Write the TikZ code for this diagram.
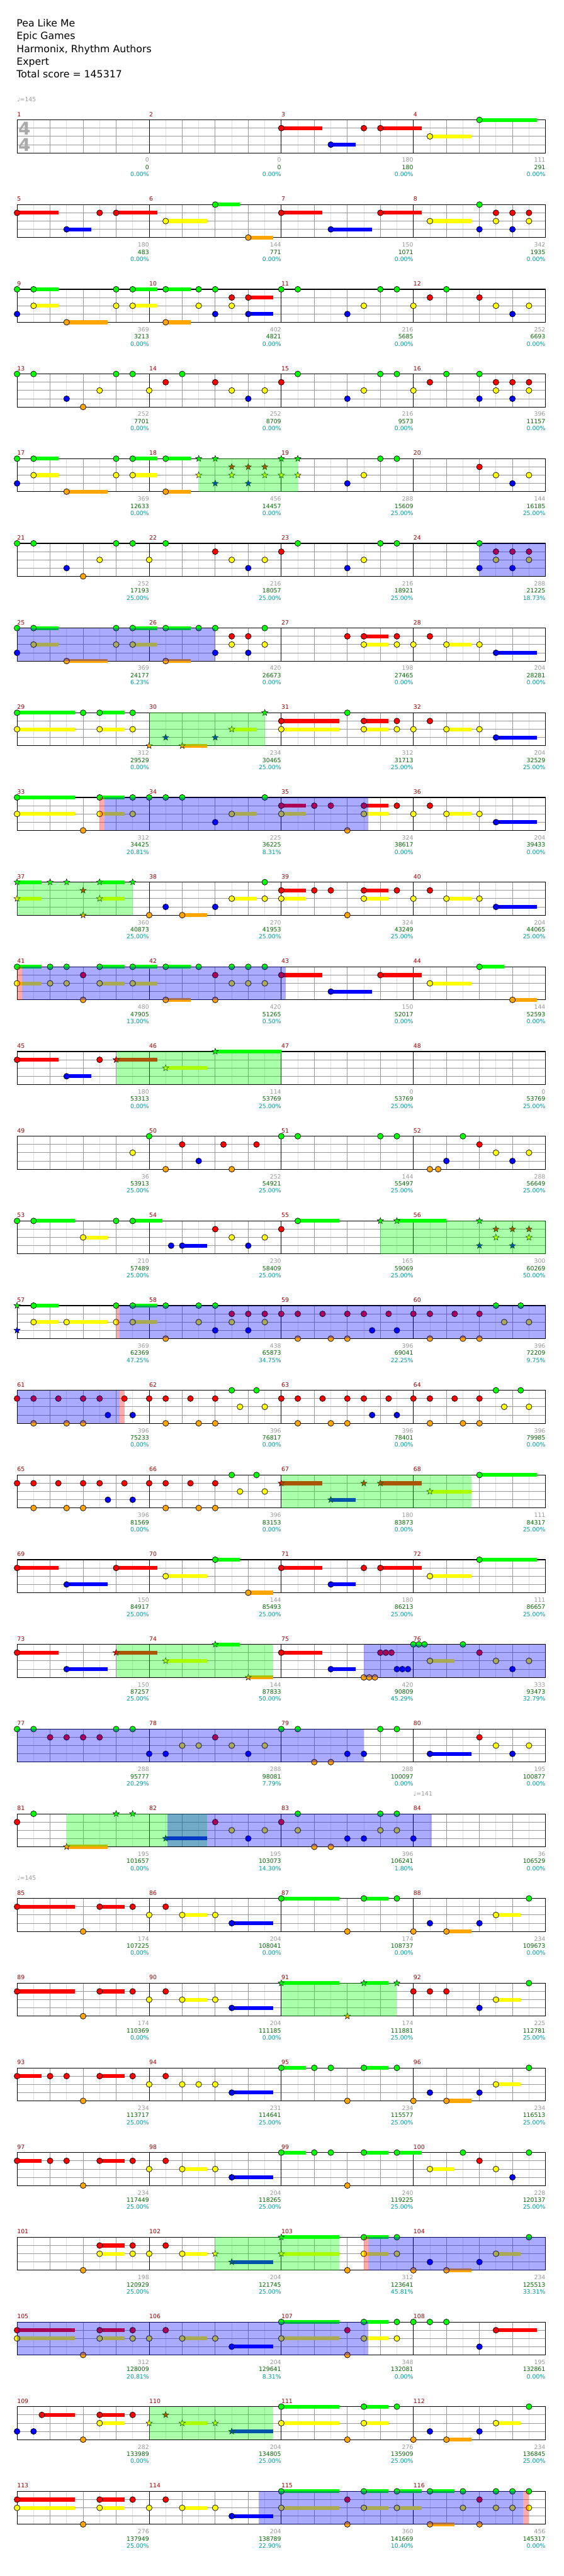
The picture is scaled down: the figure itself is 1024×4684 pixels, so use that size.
\documentclass[tikz,border=0pt]{standalone}
\usepackage{fontspec}
\setmainfont{DejaVu Sans}
\usepackage{tikz}
\usetikzlibrary{shapes.geometric}
\definecolor{lane0}{HTML}{00FF00}
\definecolor{lane1}{HTML}{FF0000}
\definecolor{lane2}{HTML}{FFFF00}
\definecolor{lane3}{HTML}{0000FF}
\definecolor{lane4}{HTML}{FFA500}
\definecolor{barred}{HTML}{990000}
\definecolor{ptgray}{HTML}{999999}
\definecolor{ptgreen}{HTML}{006600}
\definecolor{ptteal}{HTML}{009999}
\definecolor{gridmid}{HTML}{999999}
\definecolor{gridlight}{HTML}{DDDDDD}
\definecolor{sigray}{HTML}{AAAAAA}

\newcommand\smallfont{\fontsize{8}{9.6}\selectfont}
\newcommand\titlefont{\fontsize{13.5}{17}\selectfont}

% one row = 4 bars, k counts eighths from the row start, lanes 0..4
\newcommand\chartrow[1]{\def\rowN{#1}\pgfmathsetmacro\rowT{218+154*(#1-1)}}
\newcommand\staffgrid{%
  \foreach \k in {1,3,...,31} \draw[gridlight,line width=0.75pt] ({31+30*\k},\rowT) -- ++(0,60);
  \foreach \k in {2,4,...,30} \draw[gridmid,line width=0.75pt] ({31+30*\k},\rowT) -- ++(0,60);
  \foreach \l in {1,2,3} \draw[gridmid,line width=0.75pt] (31,{\rowT+15*\l}) -- ++(960,0);
  \foreach \k in {8,16,24} \draw[black,line width=0.75pt] ({31+30*\k},\rowT) -- ++(0,60);
  \draw[black,line width=0.9pt] (31,\rowT) rectangle (991,{\rowT+60});
  \foreach \m in {1,...,4}{
    \pgfmathtruncatemacro\mnum{4*(\rowN-1)+\m}
    \node[barlbl] (bar\mnum) at ({31+240*(\m-1)},{\rowT-6.3}) {\mnum};}}
\newcommand\hnote[2]{\filldraw[fill=lane#2,draw=black,line width=0.6pt] ({31+30*#1},{\rowT+15*#2}) circle (5.3);}
\newcommand\hsus[3]{\draw[lane#2,line width=5.25pt] ({31+30*#1},{\rowT+15*#2}) -- ({31+30*#3},{\rowT+15*#2});\hnote{#1}{#2}}
\newcommand\hstar[2]{\node[spstar,fill=lane#2] at ({31+30*#1},{\rowT+15*#2}) {};}
\newcommand\hstarsus[3]{\draw[lane#2,line width=5.25pt] ({31+30*#1},{\rowT+15*#2}) -- ({31+30*#3},{\rowT+15*#2});\hstar{#1}{#2}}
\newcommand\spzone[2]{\fill[lane0,fill opacity=0.333] ({31+30*#1},\rowT) rectangle ({31+30*#2},{\rowT+60});}
\newcommand\solozone[2]{\fill[lane3,fill opacity=0.333] ({31+30*#1},\rowT) rectangle ({31+30*#2},{\rowT+60});}
\newcommand\redzone[2]{\fill[lane1,fill opacity=0.333] ({31+30*#1},\rowT) rectangle ({31+30*#2},{\rowT+60});}
\newcommand\barscore[4]{%
  \node[scorelbl,text=ptgray] at ({31+240*#1},{\rowT+77}) {#2};
  \node[scorelbl,text=ptgreen] at ({31+240*#1},{\rowT+90}) {#3};
  \node[scorelbl,text=ptteal] at ({31+240*#1},{\rowT+103}) {#4\%};}

\begin{document}
\begin{tikzpicture}[x=0.75pt,y=-0.75pt,
    titletxt/.style={anchor=base west,inner sep=0pt,font=\titlefont},
    barlbl/.style={anchor=base west,inner sep=0pt,font=\smallfont,text=barred},
    scorelbl/.style={anchor=base east,inner sep=0pt,font=\smallfont},
    tempolbl/.style={anchor=base west,inner sep=0pt,font=\smallfont,text=ptgray},
    sig/.style={inner sep=0pt,font=\fontsize{24}{24}\selectfont\bfseries,text=sigray},
    spstar/.style={star,star points=5,star point ratio=2.4,minimum size=9pt,inner sep=0pt,draw=black,line width=0.4pt}]
  \useasboundingbox (0,0) rectangle (1024,4684);
  \fill[white] (0,0) rectangle (1024,4684);

  \node[titletxt] (title) at (30,49) {Pea Like Me};
  \node[titletxt] (artist) at (30,72) {Epic Games};
  \node[titletxt] (charter) at (30,95) {Harmonix, Rhythm Authors};
  \node[titletxt] (level) at (30,118) {Expert};
  \node[titletxt] (total) at (30,141) {Total score = 145317};

  % bars 1-4
  \chartrow{1}\staffgrid
  \node[tempolbl] (tempo1) at (31,{\rowT-33}) {♩=145};
  \node[sig] (sigtop) at (44.5,233.5) {4};
  \node[sig] (sigbot) at (44.5,263) {4};
  \foreach \k/\l/\e in {16/1/18.5,19/3/20.5,22/1/24.5,25/2/27.5,28/0/31.5} {\hsus{\k}{\l}{\e}}
  \hnote{21}{1}
  \foreach \m/\a/\b/\c in {1/0/0/0.00,2/0/0/0.00,3/180/180/0.00,4/111/291/0.00} {\barscore{\m}{\a}{\b}{\c}}

  % bars 5-8
  \chartrow{2}\staffgrid
  \foreach \k/\l/\e in {0/1/2.5,3/3/4.5,6/1/8.5,9/2/11.5,12/0/13.5,14/4/15.5,16/1/18.5,19/3/21.5,22/1/24.5,25/2/27.5} {\hsus{\k}{\l}{\e}}
  \foreach \k/\l in {5/1,28/0,28/3,29/1,29/2,30/1,30/3,31/1,31/2} {\hnote{\k}{\l}}
  \foreach \m/\a/\b/\c in {1/180/483/0.00,2/144/771/0.00,3/150/1071/0.00,4/342/1935/0.00} {\barscore{\m}{\a}{\b}{\c}}

  % bars 9-12
  \chartrow{3}\staffgrid
  \foreach \k/\l/\e in {1/0/2.5,1/2/2.5,3/4/5.5,7/0/8.5,7/2/8.5,9/0/10.5,9/4/10.5,14/1/15.5,14/3/15.5} {\hsus{\k}{\l}{\e}}
  \foreach \k/\l in {0/0,0/3,6/0,6/2,11/0,11/2,12/0,12/3,13/1,13/2,16/0,17/0,20/3,21/2,22/0,23/0,24/2,25/1,26/0,28/1,29/2,30/3,31/2} {\hnote{\k}{\l}}
  \foreach \m/\a/\b/\c in {1/369/3213/0.00,2/402/4821/0.00,3/216/5685/0.00,4/252/6693/0.00} {\barscore{\m}{\a}{\b}{\c}}

  % bars 13-16
  \chartrow{4}\staffgrid
  \foreach \k/\l in {0/0,1/0,3/3,4/4,5/2,6/0,7/0,8/2,9/1,10/0,12/1,13/2,14/3,15/2,16/1,17/0,20/3,21/2,22/0,23/0,24/2,25/1,26/0,28/0,28/3,29/1,29/2,30/1,30/3,31/1,31/2} {\hnote{\k}{\l}}
  \foreach \m/\a/\b/\c in {1/252/7701/0.00,2/252/8709/0.00,3/216/9573/0.00,4/396/11157/0.00} {\barscore{\m}{\a}{\b}{\c}}

  % bars 17-20
  \chartrow{5}\staffgrid
  \foreach \k/\l/\e in {1/0/2.5,1/2/2.5,3/4/5.5,7/0/8.5,7/2/8.5,9/0/10.5,9/4/10.5} {\hsus{\k}{\l}{\e}}
  \foreach \k/\l in {0/0,0/3,6/0,6/2,20/3,21/2,22/0,23/0,28/1,29/2,30/3,31/2} {\hnote{\k}{\l}}
  \foreach \k/\l in {11/0,11/2,12/0,12/3,13/1,13/2,14/1,14/3,15/1,15/2,16/0,16/2,17/0,17/2} {\hstar{\k}{\l}}
  \spzone{11}{17}
  \foreach \m/\a/\b/\c in {1/369/12633/0.00,2/456/14457/0.00,3/288/15609/25.00,4/144/16185/25.00} {\barscore{\m}{\a}{\b}{\c}}

  % bars 21-24
  \chartrow{6}\staffgrid
  \foreach \k/\l in {0/0,1/0,3/3,4/4,5/2,6/0,7/0,8/2,9/0,12/1,13/2,14/3,15/2,16/1,17/0,20/3,21/2,22/0,23/0,28/0,28/3,29/1,29/2,30/1,30/3,31/1,31/2} {\hnote{\k}{\l}}
  \solozone{28}{32}
  \foreach \m/\a/\b/\c in {1/252/17193/25.00,2/216/18057/25.00,3/216/18921/25.00,4/288/21225/18.73} {\barscore{\m}{\a}{\b}{\c}}

  % bars 25-28
  \chartrow{7}\staffgrid
  \foreach \k/\l/\e in {1/0/2.5,1/2/2.5,3/4/5.5,7/0/8.5,7/2/8.5,9/0/10.5,9/4/10.5,21/1/22.5,21/2/22.5,26/2/27.5,29/3/31.5} {\hsus{\k}{\l}{\e}}
  \foreach \k/\l in {0/0,0/3,6/0,6/2,11/0,12/0,12/3,13/1,13/2,14/1,14/3,15/0,15/2,20/1,23/1,23/2,24/2,25/1,28/2} {\hnote{\k}{\l}}
  \solozone{0}{12}
  \foreach \m/\a/\b/\c in {1/369/24177/6.23,2/420/26673/0.00,3/198/27465/0.00,4/204/28281/0.00} {\barscore{\m}{\a}{\b}{\c}}

  % bars 29-32
  \chartrow{8}\staffgrid
  \foreach \k/\l/\e in {0/0/3.5,0/2/3.5,5/0/6.5,5/2/6.5,16/1/19.5,16/2/19.5,21/1/22.5,21/2/22.5,26/2/27.5,29/3/31.5} {\hsus{\k}{\l}{\e}}
  \foreach \k/\l in {4/0,7/0,7/2,20/0,23/1,23/2,24/2,25/1,28/2} {\hnote{\k}{\l}}
  \foreach \k/\l/\e in {10/4/11.5,13/2/14.5} {\hstarsus{\k}{\l}{\e}}
  \foreach \k/\l in {8/4,9/3,12/3,15/0} {\hstar{\k}{\l}}
  \spzone{8}{15}
  \foreach \m/\a/\b/\c in {1/312/29529/0.00,2/234/30465/25.00,3/312/31713/25.00,4/204/32529/25.00} {\barscore{\m}{\a}{\b}{\c}}

  % bars 33-36
  \chartrow{9}\staffgrid
  \foreach \k/\l/\e in {0/0/3.5,0/2/3.5,5/0/6.5,5/2/6.5,13/2/14.5,16/1/17.5,16/2/17.5,21/1/22.5,21/2/22.5,26/2/27.5,29/3/31.5} {\hsus{\k}{\l}{\e}}
  \foreach \k/\l in {4/4,7/0,7/2,8/0,9/0,10/0,12/3,15/0,18/1,19/1,20/4,23/1,24/2,25/1,28/2} {\hnote{\k}{\l}}
  \redzone{5}{5.3}\solozone{5.3}{21.27}
  \foreach \m/\a/\b/\c in {1/312/34425/20.81,2/225/36225/8.31,3/324/38617/0.00,4/204/39433/0.00} {\barscore{\m}{\a}{\b}{\c}}

  % bars 37-40
  \chartrow{10}\staffgrid
  \foreach \k/\l/\e in {10/4/11.5,13/2/14.5,16/1/17.5,16/2/17.5,21/1/22.5,21/2/22.5,26/2/27.5,29/3/31.5} {\hsus{\k}{\l}{\e}}
  \foreach \k/\l in {8/4,9/3,12/3,15/0,15/2,18/1,19/1,20/4,23/1,24/2,25/1,28/2} {\hnote{\k}{\l}}
  \foreach \k/\l/\e in {0/0/1.5,0/2/1.5,5/0/6.5,5/2/6.5} {\hstarsus{\k}{\l}{\e}}
  \foreach \k/\l in {2/0,3/0,4/1,4/4,7/0} {\hstar{\k}{\l}}
  \spzone{0}{7}
  \foreach \m/\a/\b/\c in {1/360/40873/25.00,2/270/41953/25.00,3/324/43249/25.00,4/204/44065/25.00} {\barscore{\m}{\a}{\b}{\c}}

  % bars 41-44
  \chartrow{11}\staffgrid
  \foreach \k/\l/\e in {0/0/1.5,0/2/1.5,5/0/6.5,5/2/6.5,7/0/8.5,7/2/8.5,9/0/10.5,9/4/10.5,16/1/18.5,19/3/21.5,22/1/24.5,25/2/27.5,28/0/29.5,30/4/31.5} {\hsus{\k}{\l}{\e}}
  \foreach \k/\l in {2/0,2/2,3/0,3/2,4/1,4/4,11/0,12/1,12/4,13/0,13/2,14/0,14/2,15/0,15/2} {\hnote{\k}{\l}}
  \redzone{0}{0.3}\solozone{0.3}{16.26}
  \foreach \m/\a/\b/\c in {1/480/47905/13.00,2/420/51265/0.50,3/150/52017/0.00,4/144/52593/0.00} {\barscore{\m}{\a}{\b}{\c}}

  % bars 45-48
  \chartrow{12}\staffgrid
  \foreach \k/\l/\e in {0/1/2.5,3/3/4.5} {\hsus{\k}{\l}{\e}}
  \hnote{5}{1}
  \foreach \k/\l/\e in {6/1/8.5,9/2/11.5,12/0/16} {\hstarsus{\k}{\l}{\e}}
  \spzone{6}{16}
  \foreach \m/\a/\b/\c in {1/180/53313/0.00,2/114/53769/25.00,3/0/53769/25.00,4/0/53769/25.00} {\barscore{\m}{\a}{\b}{\c}}

  % bars 49-52
  \chartrow{13}\staffgrid
  \foreach \k/\l in {7/2,8/0,9/4,10/1,11/3,12.5/1,13/4,14.5/1,16/0,17/0,22/0,23/0,25/4,25.5/4,26/3,27/0,28/1,29/2,30/3,31/2} {\hnote{\k}{\l}}
  \foreach \m/\a/\b/\c in {1/36/53913/25.00,2/252/54921/25.00,3/144/55497/25.00,4/288/56649/25.00} {\barscore{\m}{\a}{\b}{\c}}

  % bars 53-56
  \chartrow{14}\staffgrid
  \foreach \k/\l/\e in {1/0/3.5,4/2/5.5,7/0/8.8,10/3/11.5,17/0/19.5} {\hsus{\k}{\l}{\e}}
  \foreach \k/\l in {0/0,6/0,9.33/3,12/1,13/2,14/3,15/2,16/1} {\hnote{\k}{\l}}
  \hstarsus{23}{0}{26}
  \foreach \k/\l in {22/0,28/0,28/3,29/1,29/2,30/1,30/3,31/1,31/2} {\hstar{\k}{\l}}
  \spzone{22}{32}
  \foreach \m/\a/\b/\c in {1/210/57489/25.00,2/230/58409/25.00,3/165/59069/25.00,4/300/60269/50.00} {\barscore{\m}{\a}{\b}{\c}}

  % bars 57-60
  \chartrow{15}\staffgrid
  \foreach \k/\l/\e in {1/0/2.5,1/2/2.5,3/2/5.5,7/0/8.5,7/2/8.5} {\hsus{\k}{\l}{\e}}
  \foreach \k/\l in {6/0,6/2,9/0,9/4,11/0,11/2,12/0,12/3,13/1,13/2,14/1,14/3,15/1,15/2,16/1,17/1,17/4,18.5/1,19/4,20/1,20/4,21/1,21.5/3,22.5/1,23/3,24/1,25/1,25/4,26.5/1,27/4,28/1,28/4,29/0,29.5/2,30.5/0,31/2} {\hnote{\k}{\l}}
  \foreach \k/\l in {0/0,0/3} {\hstar{\k}{\l}}
  \redzone{6}{6.2}\solozone{6.2}{32}
  \foreach \m/\a/\b/\c in {1/369/62369/47.25,2/438/65873/34.75,3/396/69041/22.25,4/396/72209/9.75} {\barscore{\m}{\a}{\b}{\c}}

  % bars 61-64
  \chartrow{16}\staffgrid
  \foreach \k/\l in {0/1,1/1,1/4,2.5/1,3/4,4/1,4/4,5/1,5.5/3,6.5/1,7/3,8/1,9/1,9/4,10.5/1,11/4,12/1,12/4,13/0,13.5/2,14.5/0,15/2,16/1,17/1,17/4,18.5/1,19/4,20/1,20/4,21/1,21.5/3,22.5/1,23/3,24/1,25/1,25/4,26.5/1,27/4,28/1,28/4,29/0,29.5/2,30.5/0,31/2} {\hnote{\k}{\l}}
  \solozone{0}{6.2}\redzone{6.2}{6.5}
  \foreach \m/\a/\b/\c in {1/396/75233/0.00,2/396/76817/0.00,3/396/78401/0.00,4/396/79985/0.00} {\barscore{\m}{\a}{\b}{\c}}

  % bars 65-68
  \chartrow{17}\staffgrid
  \foreach \k/\l in {0/1,1/1,1/4,2.5/1,3/4,4/1,4/4,5/1,5.5/3,6.5/1,7/3,8/1,9/1,9/4,10.5/1,11/4,12/1,12/4,13/0,13.5/2,14.5/0,15/2} {\hnote{\k}{\l}}
  \hsus{28}{0}{31.5}
  \foreach \k/\l/\e in {16/1/18.5,19/3/20.5,22/1/24.5,25/2/27.5} {\hstarsus{\k}{\l}{\e}}
  \hstar{21}{1}
  \spzone{16}{27.5}
  \foreach \m/\a/\b/\c in {1/396/81569/0.00,2/396/83153/0.00,3/180/83873/0.00,4/111/84317/25.00} {\barscore{\m}{\a}{\b}{\c}}

  % bars 69-72
  \chartrow{18}\staffgrid
  \foreach \k/\l/\e in {0/1/2.5,3/3/5.5,6/1/8.5,9/2/11.5,12/0/13.5,14/4/15.5,16/1/18.5,19/3/20.5,22/1/24.5,25/2/27.5,28/0/31.5} {\hsus{\k}{\l}{\e}}
  \hnote{21}{1}
  \foreach \m/\a/\b/\c in {1/150/84917/25.00,2/144/85493/25.00,3/180/86213/25.00,4/111/86657/25.00} {\barscore{\m}{\a}{\b}{\c}}

  % bars 73-76
  \chartrow{19}\staffgrid
  \foreach \k/\l/\e in {0/1/2.5,3/3/5.5,16/1/18.5,19/3/20.5,25/2/26.5} {\hsus{\k}{\l}{\e}}
  \foreach \k/\l in {21/4,21.33/4,21.67/4,22/1,22.33/1,22.67/1,23/3,23.33/3,23.67/3,24/0,24.33/0,24.67/0,27/0,28/1,29/2,30/3,31/2} {\hnote{\k}{\l}}
  \foreach \k/\l/\e in {6/1/8.5,9/2/11.5,12/0/13.5,14/4/15.5} {\hstarsus{\k}{\l}{\e}}
  \spzone{6}{15.5}\solozone{21}{32}
  \foreach \m/\a/\b/\c in {1/150/87257/25.00,2/144/87833/50.00,3/420/90809/45.29,4/333/93473/32.79} {\barscore{\m}{\a}{\b}{\c}}

  % bars 77-80
  \chartrow{20}\staffgrid
  \hsus{25}{3}{27.5}
  \foreach \k/\l in {0/0,1/0,2/1,3/1,4/1,5/1,6/0,7/0,8/3,9/3,10/2,11/2,12/1,13/2,14/3,15/2,16/0,17/0,18/4,19/4,20/3,21/3,22/0,23/0,28/1,29/2,30/3,31/2} {\hnote{\k}{\l}}
  \solozone{0}{21}
  \foreach \m/\a/\b/\c in {1/288/95777/20.29,2/288/98081/7.79,3/288/100097/0.00,4/195/100877/0.00} {\barscore{\m}{\a}{\b}{\c}}

  % bars 81-84
  \chartrow{21}\staffgrid
  \node[tempolbl] (tempo2) at (751,{\rowT-33}) {♩=141};
  \foreach \k/\l in {0/1,1/0,12/1,13/2,14/3,15/2,16/1,17/0,17/2,18/4,19/4,20/3,21/3,22/0,22/2,23/0,23/2,24/3} {\hnote{\k}{\l}}
  \foreach \k/\l/\e in {3/4/5.5,9/3/11.5} {\hstarsus{\k}{\l}{\e}}
  \foreach \k/\l in {6/0,7/0} {\hstar{\k}{\l}}
  \spzone{3}{11.5}\solozone{9.12}{25.1}
  \foreach \m/\a/\b/\c in {1/195/101657/0.00,2/195/103073/14.30,3/396/106241/1.80,4/36/106529/0.00} {\barscore{\m}{\a}{\b}{\c}}

  % bars 85-88
  \chartrow{22}\staffgrid
  \node[tempolbl] (tempo3) at (31,{\rowT-33}) {♩=145};
  \foreach \k/\l/\e in {0/1/3.5,5/1/6.5,10/2/11.5,13/3/15.5,16/0/19.5,21/0/22.5,26/4/27.5,29/2/30.5} {\hsus{\k}{\l}{\e}}
  \foreach \k/\l in {4/4,7/1,8/2,9/1,12/2,20/4,23/0,24/4,25/3,28/3,31/0} {\hnote{\k}{\l}}
  \foreach \m/\a/\b/\c in {1/174/107225/0.00,2/204/108041/0.00,3/174/108737/0.00,4/234/109673/0.00} {\barscore{\m}{\a}{\b}{\c}}

  % bars 89-92
  \chartrow{23}\staffgrid
  \foreach \k/\l/\e in {0/1/3.5,5/1/6.5,10/2/11.5,13/3/15.5,29/2/30.5} {\hsus{\k}{\l}{\e}}
  \foreach \k/\l in {4/4,7/1,8/2,9/1,12/2,24/1,25/1,26/1,28/3,31/0} {\hnote{\k}{\l}}
  \foreach \k/\l/\e in {16/0/19.5,21/0/22.5} {\hstarsus{\k}{\l}{\e}}
  \foreach \k/\l in {20/4,23/0} {\hstar{\k}{\l}}
  \spzone{16}{23}
  \foreach \m/\a/\b/\c in {1/174/110369/0.00,2/204/111185/0.00,3/174/111881/25.00,4/225/112781/25.00} {\barscore{\m}{\a}{\b}{\c}}

  % bars 93-96
  \chartrow{24}\staffgrid
  \foreach \k/\l/\e in {0/1/1.5,5/1/6.5,13/3/15.5,16/0/17.5,21/0/22.5,26/4/27.5,29/2/30.5} {\hsus{\k}{\l}{\e}}
  \foreach \k/\l in {2/1,3/1,4/4,7/1,8/2,9/1,10/2,11/2,12/2,18/0,19/0,20/4,23/0,24/4,25/3,28/3,31/0} {\hnote{\k}{\l}}
  \foreach \m/\a/\b/\c in {1/234/113717/25.00,2/231/114641/25.00,3/234/115577/25.00,4/234/116513/25.00} {\barscore{\m}{\a}{\b}{\c}}

  % bars 97-100
  \chartrow{25}\staffgrid
  \foreach \k/\l/\e in {0/1/1.5,5/1/6.5,10/2/11.5,13/3/15.5,16/0/17.5,21/0/22.5,23/0/24.5,25/2/26.5} {\hsus{\k}{\l}{\e}}
  \foreach \k/\l in {2/1,3/1,4/4,7/1,8/2,9/1,12/2,18/0,19/0,20/4,27/0,28/1,29/2,30/3,31/0} {\hnote{\k}{\l}}
  \foreach \m/\a/\b/\c in {1/234/117449/25.00,2/204/118265/25.00,3/240/119225/25.00,4/228/120137/25.00} {\barscore{\m}{\a}{\b}{\c}}

  % bars 101-104
  \chartrow{26}\staffgrid
  \foreach \k/\l/\e in {5/1/6.5,5/2/6.5,10/2/11.5,21/0/22.5,21/2/22.5,26/4/27.5,29/2/30.5} {\hsus{\k}{\l}{\e}}
  \foreach \k/\l in {4/4,7/1,7/2,8/2,9/1,20/4,23/0,23/2,24/4,25/3,28/3,31/0} {\hnote{\k}{\l}}
  \foreach \k/\l/\e in {13/3/15.5,16/0/19.5,16/2/19.5} {\hstarsus{\k}{\l}{\e}}
  \hstar{12}{2}
  \spzone{12}{19.5}\redzone{21}{21.27}\solozone{21.27}{32}
  \foreach \m/\a/\b/\c in {1/198/120929/25.00,2/204/121745/25.00,3/312/123641/45.81,4/234/125513/33.31} {\barscore{\m}{\a}{\b}{\c}}

  % bars 105-108
  \chartrow{27}\staffgrid
  \foreach \k/\l/\e in {0/1/3.5,0/2/3.5,5/1/6.5,5/2/6.5,10/2/11.5,13/3/15.5,16/0/19.5,16/2/19.5,21/0/22.5,21/2/22.5,29/1/31.5} {\hsus{\k}{\l}{\e}}
  \foreach \k/\l in {4/4,7/1,7/2,8/2,9/1,12/2,20/1,20/4,23/0,23/2,24/0,25/0,26/0,28/3} {\hnote{\k}{\l}}
  \solozone{0}{21.27}
  \foreach \m/\a/\b/\c in {1/312/128009/20.81,2/204/129641/8.31,3/348/132081/0.00,4/195/132861/0.00} {\barscore{\m}{\a}{\b}{\c}}

  % bars 109-112
  \chartrow{28}\staffgrid
  \foreach \k/\l/\e in {1.5/1/3.5,5/1/6.5,5/2/6.5,16/0/19.5,16/2/19.5,21/0/22.5,21/2/22.5,26/4/27.5,29/2/30.5} {\hsus{\k}{\l}{\e}}
  \foreach \k/\l in {0/3,1/3,4/4,7/1,20/4,23/0,24/4,25/3,28/3,31/0} {\hnote{\k}{\l}}
  \foreach \k/\l/\e in {10/2/11.5,13/3/15.5} {\hstarsus{\k}{\l}{\e}}
  \foreach \k/\l in {8/2,9/1,12/2} {\hstar{\k}{\l}}
  \spzone{8}{15.5}
  \foreach \m/\a/\b/\c in {1/282/133989/0.00,2/204/134805/25.00,3/276/135909/25.00,4/234/136845/25.00} {\barscore{\m}{\a}{\b}{\c}}

  % bars 113-116
  \chartrow{29}\staffgrid
  \foreach \k/\l/\e in {0/1/3.5,0/2/3.5,5/1/6.5,5/2/6.5,10/2/11.5,13/3/15.5,16/0/19.5,16/2/19.5,21/0/22.5,21/2/22.5,23/0/24.5,23/2/24.5,25/0/26.5,25/4/26.5} {\hsus{\k}{\l}{\e}}
  \foreach \k/\l in {4/4,7/1,8/2,9/1,12/2,20/1,20/4,27/0,27/2,28/1,28/4,29/0,29/2,30/0,30/2,31/0,31/2} {\hnote{\k}{\l}}
  \solozone{14.63}{30.65}\redzone{30.65}{31}
  \foreach \m/\a/\b/\c in {1/276/137949/25.00,2/204/138789/22.90,3/360/141669/10.40,4/456/145317/0.00} {\barscore{\m}{\a}{\b}{\c}}
\end{tikzpicture}
\end{document}
